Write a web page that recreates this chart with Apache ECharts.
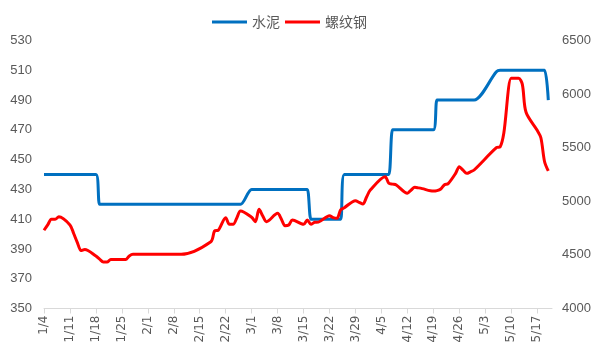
<!DOCTYPE html>
<html><head><meta charset="utf-8">
<script src="https://cdn.jsdelivr.net/npm/echarts@6/dist/echarts.min.js"></script>
<style>html,body{margin:0;padding:0;background:#fff}#c{width:601px;height:361px}</style>
</head><body><div id="c"></div>
<script>
const dates = [
'2021-01-04','2021-01-05','2021-01-06','2021-01-07','2021-01-08','2021-01-11','2021-01-12','2021-01-13','2021-01-14','2021-01-15','2021-01-18','2021-01-19','2021-01-20','2021-01-21','2021-01-22','2021-01-25','2021-01-26','2021-01-27','2021-01-28','2021-01-29',
'2021-02-01','2021-02-02','2021-02-03','2021-02-04','2021-02-05','2021-02-07','2021-02-08','2021-02-09','2021-02-10','2021-02-18','2021-02-19','2021-02-20','2021-02-22','2021-02-23','2021-02-24','2021-02-25','2021-02-26',
'2021-03-01','2021-03-02','2021-03-03','2021-03-04','2021-03-05','2021-03-08','2021-03-09','2021-03-10','2021-03-11','2021-03-12','2021-03-15','2021-03-16','2021-03-17','2021-03-18','2021-03-19','2021-03-22','2021-03-23','2021-03-24','2021-03-25','2021-03-26','2021-03-29','2021-03-30','2021-03-31',
'2021-04-01','2021-04-02','2021-04-06','2021-04-07','2021-04-08','2021-04-09','2021-04-12','2021-04-13','2021-04-14','2021-04-15','2021-04-16','2021-04-19','2021-04-20','2021-04-21','2021-04-22','2021-04-23','2021-04-25','2021-04-26','2021-04-27','2021-04-28','2021-04-29','2021-04-30',
'2021-05-06','2021-05-07','2021-05-08','2021-05-10','2021-05-11','2021-05-12','2021-05-13','2021-05-14','2021-05-17','2021-05-18','2021-05-19','2021-05-20'
];
const cement = [
440,440,440,440,440,440,440,440,440,440,440,420,420,420,420,420,420,420,420,420,
420,420,420,420,420,420,420,420,420,420,420,420,420,420,420,420,420,
430,430,430,430,430,430,430,430,430,430,430,430,410,410,410,410,410,410,410,440,440,440,440,
440,440,440,440,470,470,470,470,470,470,470,470,490,490,490,490,490,490,490,490,490,490,
509,510,510,510,510,510,510,510,510,510,510,490
];
const rebar = [
4730,4780,4832,4832,4856,4780,4700,4615,4540,4550,4490,4460,4434,4434,4456,4456,4456,4490,4505,4505,
4505,4505,4505,4505,4505,4505,4505,4505,4505,4623,4723,4730,4847,4785,4785,4845,4910,
4851,4810,4925,4862,4810,4888,4835,4772,4779,4826,4785,4826,4785,4804,4806,4866,4847,4841,4919,4940,5006,4990,4975,
5040,5105,5230,5168,5160,5152,5075,5105,5131,5125,5118,5095,5100,5115,5155,5165,5260,5323,5290,5261,5275,5292,
5500,5507,5634,6147,6147,6147,6091,5830,5662,5593,5369,5283
];
const seriesNames = ['水泥', '螺纹钢'];
const startDate = '2021-01-04';
const endDate = '2021-05-21';
const leftMin = 350, leftMax = 530, leftStep = 20;
const rightMin = 4000, rightMax = 6500, rightStep = 500;

const DAY = 86400000;
function dayIdx(s){ const p = s.split('-').map(Number); return Math.round((Date.UTC(p[0],p[1]-1,p[2]) - Date.UTC(2021,0,4))/DAY); }
function dayLabel(d){ const t = new Date(Date.UTC(2021,0,4) + d*DAY); return (t.getUTCMonth()+1)+'/'+t.getUTCDate(); }

const chart = echarts.init(document.getElementById('c'), null, {renderer:'canvas'});
const txt = '#595959';
chart.setOption({
  animation:false,
  backgroundColor:'#fff',
  grid:{left:44, right:49, top:40.5, bottom:52.5, containLabel:false},
  legend:{
    left:207, top:10, itemWidth:35, itemHeight:3, itemGap:5, icon:'rect',
    textStyle:{fontSize:14, color:txt, fontFamily:'Noto Sans CJK SC'},
    data:seriesNames
  },
  xAxis:{
    type:'value', min:dayIdx(startDate), max:dayIdx(endDate), interval:7,
    axisLine:{show:true, lineStyle:{color:'#d9d9d9', width:1}},
    axisTick:{show:true, length:5, lineStyle:{color:'#d9d9d9'}},
    splitLine:{show:false},
    axisLabel:{rotate:90, margin:7, color:txt, fontSize:12, fontFamily:'DejaVu Sans',
      formatter:(v)=> v>=133.5 ? '' : dayLabel(v), showMaxLabel:false}
  },
  yAxis:[
    {type:'value', min:leftMin, max:leftMax, interval:leftStep,
     axisLine:{show:false}, axisTick:{show:false}, splitLine:{show:false},
     axisLabel:{color:txt, fontSize:13, margin:12, fontFamily:'Liberation Sans', formatter:(v)=>String(v)}},
    {type:'value', min:rightMin, max:rightMax, interval:rightStep,
     axisLine:{show:false}, axisTick:{show:false}, splitLine:{show:false},
     axisLabel:{color:txt, fontSize:13, margin:10, fontFamily:'Liberation Sans', formatter:(v)=>String(v)}}
  ],
  series:[
    {name:seriesNames[0], type:'line', yAxisIndex:0, showSymbol:false, symbol:'none', smooth:0.3,
     lineStyle:{color:'#0070C0', width:3}, itemStyle:{color:'#0070C0'},
     data:dates.map((d,i)=>[dayIdx(d), cement[i]])},
    {name:seriesNames[1], type:'line', yAxisIndex:1, showSymbol:false, symbol:'none', smooth:0.3,
     lineStyle:{color:'#FF0000', width:3}, itemStyle:{color:'#FF0000'},
     data:dates.map((d,i)=>[dayIdx(d), rebar[i]])}
  ]
});
</script></body></html>
